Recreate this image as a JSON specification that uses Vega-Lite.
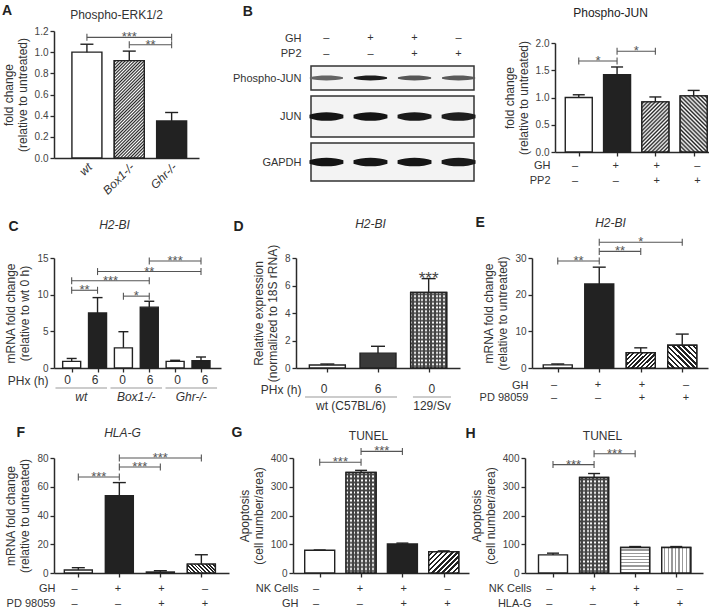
{
  "background": "white",
  "padding": {"left": 2, "top": 3, "right": 0, "bottom": 0},
  "config": {
    "font": "Liberation Sans",
    "view": {"stroke": null},
    "axis": {"grid": false, "domainColor": "#2a2a2a", "domainWidth": 1.5, "tickColor": "#2a2a2a", "tickWidth": 1.3, "tickSize": 4, "labelColor": "#444", "labelFontSize": 10, "labelFont": "Liberation Sans", "titleColor": "#333", "titleFont": "Liberation Sans", "titleFontSize": 12, "titleFontWeight": "normal", "labelPadding": 2, "titlePadding": 5, "titleLineHeight": 14},
    "title": {"font": "Liberation Sans", "color": "#222"},
    "text": {"font": "Liberation Sans"}
  },
  "datasets": {
    "a_bars": [{"i": 1, "g": "wt", "v": 1.0, "hi": 1.075}, {"i": 2, "g": "Box1-/-", "v": 0.92, "hi": 1.01}, {"i": 3, "g": "Ghr-/-", "v": 0.35, "hi": 0.43}],
    "a_br": [{"a": 1, "b": 3, "y": 1.14, "s": "***"}, {"a": 2, "b": 3, "y": 1.07, "s": "**"}],
    "b_lanes": [{"lane": 1, "GH": "–", "PP2": "–"}, {"lane": 2, "GH": "+", "PP2": "–"}, {"lane": 3, "GH": "+", "PP2": "+"}, {"lane": 4, "GH": "–", "PP2": "+"}],
    "b_blot": [
      {"blot": "Phospho-JUN", "lane": 1, "intensity": 0.6}, {"blot": "Phospho-JUN", "lane": 2, "intensity": 0.93}, {"blot": "Phospho-JUN", "lane": 3, "intensity": 0.66}, {"blot": "Phospho-JUN", "lane": 4, "intensity": 0.64},
      {"blot": "JUN", "lane": 1, "intensity": 0.96}, {"blot": "JUN", "lane": 2, "intensity": 0.97}, {"blot": "JUN", "lane": 3, "intensity": 0.94}, {"blot": "JUN", "lane": 4, "intensity": 0.92},
      {"blot": "GAPDH", "lane": 1, "intensity": 0.97}, {"blot": "GAPDH", "lane": 2, "intensity": 0.96}, {"blot": "GAPDH", "lane": 3, "intensity": 0.96}, {"blot": "GAPDH", "lane": 4, "intensity": 0.94}
    ],
    "b_bars": [{"i": 1, "v": 1.0, "hi": 1.05, "GH": "–", "PP2": "–"}, {"i": 2, "v": 1.42, "hi": 1.56, "GH": "+", "PP2": "–"}, {"i": 3, "v": 0.92, "hi": 1.01, "GH": "+", "PP2": "+"}, {"i": 4, "v": 1.03, "hi": 1.13, "GH": "–", "PP2": "+"}],
    "b_br": [{"a": 1, "b": 2, "y": 1.67, "s": "*"}, {"a": 2, "b": 3, "y": 1.85, "s": "*"}],
    "c_bars": [{"i": 1, "v": 0.9, "hi": 1.3, "PHx (h)": "0"}, {"i": 2, "v": 7.5, "hi": 9.6, "PHx (h)": "6"}, {"i": 3, "v": 2.75, "hi": 4.95, "PHx (h)": "0"}, {"i": 4, "v": 8.3, "hi": 9.1, "PHx (h)": "6"}, {"i": 5, "v": 0.9, "hi": 1.05, "PHx (h)": "0"}, {"i": 6, "v": 1.0, "hi": 1.5, "PHx (h)": "6"}],
    "c_br": [{"a": 1, "b": 2, "y": 10.6, "s": "**"}, {"a": 1, "b": 4, "y": 11.9, "s": "***"}, {"a": 3, "b": 4, "y": 9.8, "s": "*"}, {"a": 2, "b": 6, "y": 13.15, "s": "**"}, {"a": 4, "b": 6, "y": 14.6, "s": "***"}],
    "c_grp": [{"g": "wt", "a": 1, "b": 2}, {"g": "Box1-/-", "a": 3, "b": 4}, {"g": "Ghr-/-", "a": 5, "b": 6}],
    "d_bars": [{"i": 1, "v": 0.22, "hi": 0.29, "PHx (h)": "0"}, {"i": 2, "v": 1.08, "hi": 1.58, "PHx (h)": "6"}, {"i": 3, "v": 5.5, "hi": 6.5, "PHx (h)": "0", "sig": "***"}],
    "d_grp": [{"g": "wt (C57BL/6)", "a": 1, "b": 2}, {"g": "129/Sv", "a": 3, "b": 3}],
    "e_bars": [{"i": 1, "v": 0.86, "hi": 1.1, "GH": "–", "PD 98059": "–"}, {"i": 2, "v": 22.9, "hi": 27.5, "GH": "+", "PD 98059": "–"}, {"i": 3, "v": 4.15, "hi": 5.5, "GH": "+", "PD 98059": "+"}, {"i": 4, "v": 6.2, "hi": 9.25, "GH": "–", "PD 98059": "+"}],
    "e_br": [{"a": 1, "b": 2, "y": 29.2, "s": "**"}, {"a": 2, "b": 3, "y": 31.8, "s": "**"}, {"a": 2, "b": 4, "y": 34.3, "s": "*"}],
    "f_bars": [{"i": 1, "v": 2.1, "hi": 3.7, "GH": "–", "PD 98059": "–"}, {"i": 2, "v": 53.7, "hi": 62.9, "GH": "+", "PD 98059": "–"}, {"i": 3, "v": 0.7, "hi": 1.6, "GH": "+", "PD 98059": "+"}, {"i": 4, "v": 6.2, "hi": 12.7, "GH": "–", "PD 98059": "+"}],
    "f_br": [{"a": 1, "b": 2, "y": 66.8, "s": "***"}, {"a": 2, "b": 3, "y": 73.7, "s": "***"}, {"a": 2, "b": 4, "y": 80, "s": "***"}],
    "g_bars": [{"i": 1, "v": 79, "hi": 80, "NK Cells": "–", "GH": "–"}, {"i": 2, "v": 350, "hi": 357, "NK Cells": "+", "GH": "–"}, {"i": 3, "v": 101, "hi": 104, "NK Cells": "+", "GH": "+"}, {"i": 4, "v": 74, "hi": 77, "NK Cells": "–", "GH": "+"}],
    "g_br": [{"a": 1, "b": 2, "y": 385, "s": "***"}, {"a": 2, "b": 3, "y": 423, "s": "***"}],
    "h_bars": [{"i": 1, "v": 63, "hi": 69, "NK Cells": "–", "HLA-G": "–"}, {"i": 2, "v": 332, "hi": 346, "NK Cells": "+", "HLA-G": "–"}, {"i": 3, "v": 88.5, "hi": 92, "NK Cells": "+", "HLA-G": "+"}, {"i": 4, "v": 88.5, "hi": 92, "NK Cells": "–", "HLA-G": "+"}],
    "h_br": [{"a": 1, "b": 2, "y": 377, "s": "***"}, {"a": 2, "b": 3, "y": 415, "s": "***"}]
  },
  "resolve": {"scale": {"fill": "independent", "color": "independent"}},
  "vconcat": [
    {"resolve": {"scale": {"fill": "independent", "color": "independent"}}, "hconcat": [
      {
        "title": {"text": "A", "anchor": "start", "frame": "bounds", "fontSize": 14, "fontWeight": "bold", "offset": 0, "dy": 9.5},
        "width": 145, "height": 127,
        "data": {"name": "a_bars"},
        "resolve": {"axis": {"x": "independent", "y": "independent"}},
        "layer": [
          {"mark": {"type": "bar", "orient": "vertical", "width": 30, "stroke": "#222", "strokeWidth": 1.4, "opacity": 1},
           "encoding": {
             "x": {"field": "i", "type": "quantitative", "scale": {"domain": [0.341, 3.528], "nice": false, "zero": false}, "axis": {"values": [1, 2, 3], "labels": false, "ticks": false, "title": null}},
             "y": {"field": "v", "type": "quantitative", "scale": {"domain": [0, 1.2], "nice": false}, "axis": {"values": [0, 0.2, 0.4, 0.6, 0.8, 1.0, 1.2], "format": ".1f", "title": ["fold change", "(relative to untreated)"]}},
             "fill": {"field": "i", "type": "nominal", "scale": {"domain": [1, 2, 3], "range": ["#ffffff", "#999999", "#222222"]}, "legend": null}
           }},
          {"transform": [{"filter": "datum.i == 2"}],
           "mark": {"type": "bar", "orient": "vertical", "width": 30, "stroke": "#222", "strokeWidth": 1.4, "opacity": 1,
             "fill": {"gradient": "linear", "x1": 0, "y1": 0, "x2": 0.368, "y2": 1.195, "stops": [{"offset": 0, "color": "#fff"}, {"offset": 0.0125, "color": "#222"}, {"offset": 0.025, "color": "#fff"}, {"offset": 0.0375, "color": "#222"}, {"offset": 0.05, "color": "#fff"}, {"offset": 0.0625, "color": "#222"}, {"offset": 0.075, "color": "#fff"}, {"offset": 0.0875, "color": "#222"}, {"offset": 0.1, "color": "#fff"}, {"offset": 0.1125, "color": "#222"}, {"offset": 0.125, "color": "#fff"}, {"offset": 0.1375, "color": "#222"}, {"offset": 0.15, "color": "#fff"}, {"offset": 0.1625, "color": "#222"}, {"offset": 0.175, "color": "#fff"}, {"offset": 0.1875, "color": "#222"}, {"offset": 0.2, "color": "#fff"}, {"offset": 0.2125, "color": "#222"}, {"offset": 0.225, "color": "#fff"}, {"offset": 0.2375, "color": "#222"}, {"offset": 0.25, "color": "#fff"}, {"offset": 0.2625, "color": "#222"}, {"offset": 0.275, "color": "#fff"}, {"offset": 0.2875, "color": "#222"}, {"offset": 0.3, "color": "#fff"}, {"offset": 0.3125, "color": "#222"}, {"offset": 0.325, "color": "#fff"}, {"offset": 0.3375, "color": "#222"}, {"offset": 0.35, "color": "#fff"}, {"offset": 0.3625, "color": "#222"}, {"offset": 0.375, "color": "#fff"}, {"offset": 0.3875, "color": "#222"}, {"offset": 0.4, "color": "#fff"}, {"offset": 0.4125, "color": "#222"}, {"offset": 0.425, "color": "#fff"}, {"offset": 0.4375, "color": "#222"}, {"offset": 0.45, "color": "#fff"}, {"offset": 0.4625, "color": "#222"}, {"offset": 0.475, "color": "#fff"}, {"offset": 0.4875, "color": "#222"}, {"offset": 0.5, "color": "#fff"}, {"offset": 0.5125, "color": "#222"}, {"offset": 0.525, "color": "#fff"}, {"offset": 0.5375, "color": "#222"}, {"offset": 0.55, "color": "#fff"}, {"offset": 0.5625, "color": "#222"}, {"offset": 0.575, "color": "#fff"}, {"offset": 0.5875, "color": "#222"}, {"offset": 0.6, "color": "#fff"}, {"offset": 0.6125, "color": "#222"}, {"offset": 0.625, "color": "#fff"}, {"offset": 0.6375, "color": "#222"}, {"offset": 0.65, "color": "#fff"}, {"offset": 0.6625, "color": "#222"}, {"offset": 0.675, "color": "#fff"}, {"offset": 0.6875, "color": "#222"}, {"offset": 0.7, "color": "#fff"}, {"offset": 0.7125, "color": "#222"}, {"offset": 0.725, "color": "#fff"}, {"offset": 0.7375, "color": "#222"}, {"offset": 0.75, "color": "#fff"}, {"offset": 0.7625, "color": "#222"}, {"offset": 0.775, "color": "#fff"}, {"offset": 0.7875, "color": "#222"}, {"offset": 0.8, "color": "#fff"}, {"offset": 0.8125, "color": "#222"}, {"offset": 0.825, "color": "#fff"}, {"offset": 0.8375, "color": "#222"}, {"offset": 0.85, "color": "#fff"}, {"offset": 0.8625, "color": "#222"}, {"offset": 0.875, "color": "#fff"}, {"offset": 0.8875, "color": "#222"}, {"offset": 0.9, "color": "#fff"}, {"offset": 0.9125, "color": "#222"}, {"offset": 0.925, "color": "#fff"}, {"offset": 0.9375, "color": "#222"}, {"offset": 0.95, "color": "#fff"}, {"offset": 0.9625, "color": "#222"}, {"offset": 0.975, "color": "#fff"}, {"offset": 0.9875, "color": "#222"}, {"offset": 1, "color": "#fff"}]}},
           "encoding": {"x": {"field": "i", "type": "quantitative", "axis": null}, "y": {"field": "v", "type": "quantitative", "axis": null}}},
          {"mark": {"type": "rule", "color": "#222", "strokeWidth": 1.4},
           "encoding": {
             "x": {"field": "i", "type": "quantitative", "axis": {"orient": "top", "labels": false, "ticks": false, "domain": false, "title": "Phospho-ERK1/2", "titlePadding": 10, "titleX": 62}},
             "y": {"field": "v", "type": "quantitative", "axis": null},
             "y2": {"field": "hi"}
           }},
          {"mark": {"type": "tick", "orient": "horizontal", "size": 13, "thickness": 1.4, "color": "#222", "opacity": 1},
           "encoding": {"x": {"field": "i", "type": "quantitative", "axis": null}, "y": {"field": "hi", "type": "quantitative", "axis": null}}},
          {"mark": {"type": "text", "angle": 315, "align": "right", "baseline": "middle", "fontSize": 12, "fontStyle": "italic", "color": "#333", "xOffset": 3, "yOffset": 7},
           "encoding": {"x": {"field": "i", "type": "quantitative", "axis": null}, "y": {"value": "height"}, "text": {"field": "g"}}},
          {"data": {"name": "a_br"}, "mark": {"type": "rule", "color": "#555", "strokeWidth": 1.1},
           "encoding": {"x": {"field": "a", "type": "quantitative", "axis": null}, "x2": {"field": "b"}, "y": {"field": "y", "type": "quantitative", "axis": null}}},
          {"data": {"name": "a_br"}, "mark": {"type": "tick", "orient": "vertical", "size": 7, "thickness": 1.1, "color": "#555", "opacity": 1},
           "encoding": {"x": {"field": "a", "type": "quantitative", "axis": null}, "y": {"field": "y", "type": "quantitative", "axis": null}}},
          {"data": {"name": "a_br"}, "mark": {"type": "tick", "orient": "vertical", "size": 7, "thickness": 1.1, "color": "#555", "opacity": 1},
           "encoding": {"x": {"field": "b", "type": "quantitative", "axis": null}, "y": {"field": "y", "type": "quantitative", "axis": null}}},
          {"data": {"name": "a_br"}, "transform": [{"calculate": "(datum.a + datum.b) / 2", "as": "mid"}], "mark": {"type": "text", "fontSize": 13, "color": "#555", "baseline": "alphabetic", "dy": 4},
           "encoding": {"x": {"field": "mid", "type": "quantitative", "axis": null}, "y": {"field": "y", "type": "quantitative", "axis": null}, "text": {"field": "s"}}}
        ]
      },
      {"resolve": {"scale": {"fill": "independent", "color": "independent"}}, "hconcat": [
        {
          "title": {"text": "B", "anchor": "start", "frame": "bounds", "fontSize": 14, "fontWeight": "bold", "offset": 12.5, "dx": 11},
          "vconcat": [
            {"width": 163, "height": 30, "data": {"name": "b_lanes"},
             "transform": [{"fold": ["GH", "PP2"], "as": ["row", "s"]}],
             "mark": {"type": "text", "fontSize": 11, "color": "#333"},
             "encoding": {
               "x": {"field": "lane", "type": "quantitative", "scale": {"domain": [0.65, 4.35], "nice": false, "zero": false}, "axis": null},
               "y": {"field": "row", "type": "nominal", "sort": ["GH", "PP2"], "scale": {"padding": 0.44}, "axis": {"domain": false, "ticks": false, "labelFontSize": 11, "labelPadding": 10, "labelColor": "#333", "title": null}},
               "text": {"field": "s"}
             }},
            {"width": 163, "height": 24, "data": {"name": "b_blot"},
             "transform": [{"filter": "datum.blot == 'Phospho-JUN'"}],
             "view": {"stroke": "#333", "strokeWidth": 1.5, "fill": "#f3f3f3"},
             "mark": {"type": "point", "filled": true, "opacity": 1, "size": 1100, "shape": "M-1,-0.05C-0.5,-0.18,0.5,-0.18,1,-0.05L1,0.05C0.5,0.18,-0.5,0.18,-1,0.05Z"},
             "encoding": {
               "x": {"field": "lane", "type": "quantitative", "scale": {"domain": [0.65, 4.35], "nice": false, "zero": false}, "axis": null},
               "y": {"field": "blot", "type": "nominal", "axis": {"domain": false, "ticks": false, "labelFontSize": 11, "labelPadding": 10, "labelColor": "#333", "title": null}},
               "color": {"field": "intensity", "type": "quantitative", "scale": {"domain": [0, 1], "range": ["#ffffff", "#0d0d0d"]}, "legend": null}
             }},
            {"width": 163, "height": 41, "data": {"name": "b_blot"},
             "transform": [{"filter": "datum.blot == 'JUN'"}],
             "view": {"stroke": "#333", "strokeWidth": 1.5, "fill": "#f3f3f3"},
             "mark": {"type": "point", "filled": true, "opacity": 1, "size": 1150, "shape": "M-1,-0.1C-0.5,-0.3,0.5,-0.3,1,-0.1L1,0.1C0.5,0.3,-0.5,0.3,-1,0.1Z"},
             "encoding": {
               "x": {"field": "lane", "type": "quantitative", "scale": {"domain": [0.65, 4.35], "nice": false, "zero": false}, "axis": null},
               "y": {"field": "blot", "type": "nominal", "axis": {"domain": false, "ticks": false, "labelFontSize": 11, "labelPadding": 10, "labelColor": "#333", "title": null}},
               "color": {"field": "intensity", "type": "quantitative", "scale": {"domain": [0, 1], "range": ["#ffffff", "#0d0d0d"]}, "legend": null}
             }},
            {"width": 163, "height": 38, "data": {"name": "b_blot"},
             "transform": [{"filter": "datum.blot == 'GAPDH'"}],
             "view": {"stroke": "#333", "strokeWidth": 1.5, "fill": "#f3f3f3"},
             "mark": {"type": "point", "filled": true, "opacity": 1, "size": 1150, "shape": "M-1,-0.1C-0.5,-0.3,0.5,-0.3,1,-0.1L1,0.1C0.5,0.3,-0.5,0.3,-1,0.1Z"},
             "encoding": {
               "x": {"field": "lane", "type": "quantitative", "scale": {"domain": [0.65, 4.35], "nice": false, "zero": false}, "axis": null},
               "y": {"field": "blot", "type": "nominal", "axis": {"domain": false, "ticks": false, "labelFontSize": 11, "labelPadding": 10, "labelColor": "#333", "title": null}},
               "color": {"field": "intensity", "type": "quantitative", "scale": {"domain": [0, 1], "range": ["#ffffff", "#0d0d0d"]}, "legend": null}
             }}
          ],
          "spacing": 4
        },
        {
          "title": {"text": "Phospho-JUN", "anchor": "middle", "frame": "bounds", "fontSize": 12, "fontWeight": "normal", "offset": 11},
          "vconcat": [
            {"width": 163, "height": 6, "data": {"values": [{"k": 0}]}, "mark": {"type": "point", "opacity": 0}, "encoding": {}},
            {"width": 163, "height": 109, "data": {"name": "b_bars"},
             "resolve": {"axis": {"x": "independent", "y": "independent"}},
             "layer": [
               {"mark": {"type": "bar", "orient": "vertical", "width": 27, "stroke": "#222", "strokeWidth": 1.4, "opacity": 1},
                "encoding": {
                  "x": {"field": "i", "type": "quantitative", "scale": {"domain": [0.51, 4.505], "nice": false, "zero": false}, "axis": {"values": [1, 2, 3, 4], "labels": false, "title": null}},
                  "y": {"field": "v", "type": "quantitative", "scale": {"domain": [0, 2], "nice": false}, "axis": {"values": [0, 0.5, 1, 1.5, 2], "format": ".1f", "title": ["fold change", "(relative to untreated)"]}},
                  "fill": {"field": "i", "type": "nominal", "scale": {"domain": [1, 2, 3, 4], "range": ["#ffffff", "#222222", "#999999", "#999999"]}, "legend": null}
                }},
               {"transform": [{"filter": "datum.i == 3"}],
                "mark": {"type": "bar", "orient": "vertical", "width": 27, "stroke": "#222", "strokeWidth": 1.4, "opacity": 1,
                  "fill": {"gradient": "linear", "x1": 0, "y1": 0, "x2": 0.643, "y2": 1.193, "stops": [{"offset": 0, "color": "#fff"}, {"offset": 0.025, "color": "#222"}, {"offset": 0.05, "color": "#fff"}, {"offset": 0.075, "color": "#222"}, {"offset": 0.1, "color": "#fff"}, {"offset": 0.125, "color": "#222"}, {"offset": 0.15, "color": "#fff"}, {"offset": 0.175, "color": "#222"}, {"offset": 0.2, "color": "#fff"}, {"offset": 0.225, "color": "#222"}, {"offset": 0.25, "color": "#fff"}, {"offset": 0.275, "color": "#222"}, {"offset": 0.3, "color": "#fff"}, {"offset": 0.325, "color": "#222"}, {"offset": 0.35, "color": "#fff"}, {"offset": 0.375, "color": "#222"}, {"offset": 0.4, "color": "#fff"}, {"offset": 0.425, "color": "#222"}, {"offset": 0.45, "color": "#fff"}, {"offset": 0.475, "color": "#222"}, {"offset": 0.5, "color": "#fff"}, {"offset": 0.525, "color": "#222"}, {"offset": 0.55, "color": "#fff"}, {"offset": 0.575, "color": "#222"}, {"offset": 0.6, "color": "#fff"}, {"offset": 0.625, "color": "#222"}, {"offset": 0.65, "color": "#fff"}, {"offset": 0.675, "color": "#222"}, {"offset": 0.7, "color": "#fff"}, {"offset": 0.725, "color": "#222"}, {"offset": 0.75, "color": "#fff"}, {"offset": 0.775, "color": "#222"}, {"offset": 0.8, "color": "#fff"}, {"offset": 0.825, "color": "#222"}, {"offset": 0.85, "color": "#fff"}, {"offset": 0.875, "color": "#222"}, {"offset": 0.9, "color": "#fff"}, {"offset": 0.925, "color": "#222"}, {"offset": 0.95, "color": "#fff"}, {"offset": 0.975, "color": "#222"}, {"offset": 1, "color": "#fff"}]}},
                "encoding": {"x": {"field": "i", "type": "quantitative", "axis": null}, "y": {"field": "v", "type": "quantitative", "axis": null}}},
               {"transform": [{"filter": "datum.i == 4"}],
                "mark": {"type": "bar", "orient": "vertical", "width": 27, "stroke": "#222", "strokeWidth": 1.4, "opacity": 1,
                  "fill": {"gradient": "linear", "x1": 1, "y1": 0, "x2": 0.421, "y2": 1.203, "stops": [{"offset": 0, "color": "#fff"}, {"offset": 0.025, "color": "#222"}, {"offset": 0.05, "color": "#fff"}, {"offset": 0.075, "color": "#222"}, {"offset": 0.1, "color": "#fff"}, {"offset": 0.125, "color": "#222"}, {"offset": 0.15, "color": "#fff"}, {"offset": 0.175, "color": "#222"}, {"offset": 0.2, "color": "#fff"}, {"offset": 0.225, "color": "#222"}, {"offset": 0.25, "color": "#fff"}, {"offset": 0.275, "color": "#222"}, {"offset": 0.3, "color": "#fff"}, {"offset": 0.325, "color": "#222"}, {"offset": 0.35, "color": "#fff"}, {"offset": 0.375, "color": "#222"}, {"offset": 0.4, "color": "#fff"}, {"offset": 0.425, "color": "#222"}, {"offset": 0.45, "color": "#fff"}, {"offset": 0.475, "color": "#222"}, {"offset": 0.5, "color": "#fff"}, {"offset": 0.525, "color": "#222"}, {"offset": 0.55, "color": "#fff"}, {"offset": 0.575, "color": "#222"}, {"offset": 0.6, "color": "#fff"}, {"offset": 0.625, "color": "#222"}, {"offset": 0.65, "color": "#fff"}, {"offset": 0.675, "color": "#222"}, {"offset": 0.7, "color": "#fff"}, {"offset": 0.725, "color": "#222"}, {"offset": 0.75, "color": "#fff"}, {"offset": 0.775, "color": "#222"}, {"offset": 0.8, "color": "#fff"}, {"offset": 0.825, "color": "#222"}, {"offset": 0.85, "color": "#fff"}, {"offset": 0.875, "color": "#222"}, {"offset": 0.9, "color": "#fff"}, {"offset": 0.925, "color": "#222"}, {"offset": 0.95, "color": "#fff"}, {"offset": 0.975, "color": "#222"}, {"offset": 1, "color": "#fff"}]}},
                "encoding": {"x": {"field": "i", "type": "quantitative", "axis": null}, "y": {"field": "v", "type": "quantitative", "axis": null}}},
               {"mark": {"type": "rule", "color": "#222", "strokeWidth": 1.4},
                "encoding": {"x": {"field": "i", "type": "quantitative", "axis": null}, "y": {"field": "v", "type": "quantitative", "axis": null}, "y2": {"field": "hi"}}},
               {"mark": {"type": "tick", "orient": "horizontal", "size": 12, "thickness": 1.4, "color": "#222", "opacity": 1},
                "encoding": {"x": {"field": "i", "type": "quantitative", "axis": null}, "y": {"field": "hi", "type": "quantitative", "axis": null}}},
               {"data": {"name": "b_br"}, "mark": {"type": "rule", "color": "#555", "strokeWidth": 1.1},
                "encoding": {"x": {"field": "a", "type": "quantitative", "axis": null}, "x2": {"field": "b"}, "y": {"field": "y", "type": "quantitative", "axis": null}}},
               {"data": {"name": "b_br"}, "mark": {"type": "tick", "orient": "vertical", "size": 7, "thickness": 1.1, "color": "#555", "opacity": 1},
                "encoding": {"x": {"field": "a", "type": "quantitative", "axis": null}, "y": {"field": "y", "type": "quantitative", "axis": null}}},
               {"data": {"name": "b_br"}, "mark": {"type": "tick", "orient": "vertical", "size": 7, "thickness": 1.1, "color": "#555", "opacity": 1},
                "encoding": {"x": {"field": "b", "type": "quantitative", "axis": null}, "y": {"field": "y", "type": "quantitative", "axis": null}}},
               {"data": {"name": "b_br"}, "transform": [{"calculate": "(datum.a + datum.b) / 2", "as": "mid"}], "mark": {"type": "text", "fontSize": 13, "color": "#555", "baseline": "alphabetic", "dy": 4},
                "encoding": {"x": {"field": "mid", "type": "quantitative", "axis": null}, "y": {"field": "y", "type": "quantitative", "axis": null}, "text": {"field": "s"}}}
             ]},
            {"width": 163, "height": 30, "data": {"name": "b_bars"},
             "transform": [{"fold": ["GH", "PP2"], "as": ["row", "s"]}],
             "mark": {"type": "text", "fontSize": 11, "color": "#333"},
             "encoding": {
               "x": {"field": "i", "type": "quantitative", "scale": {"domain": [0.51, 4.505], "nice": false, "zero": false}, "axis": null},
               "y": {"field": "row", "type": "nominal", "sort": ["GH", "PP2"], "scale": {"padding": 0.5}, "axis": {"domain": false, "ticks": false, "labelFontSize": 11, "labelPadding": 5, "labelColor": "#333", "title": null}},
               "text": {"field": "s"}
             }}
          ],
          "spacing": 1
        }
      ], "spacing": 26}
    ], "spacing": 32},
    {"resolve": {"scale": {"fill": "independent", "color": "independent"}}, "vconcat": [
      {"resolve": {"scale": {"fill": "independent", "color": "independent"}}, "hconcat": [
        {
          "vconcat": [
            {"width": 167, "height": 110, "data": {"name": "c_bars"},
             "resolve": {"axis": {"x": "independent", "y": "independent"}},
             "layer": [
               {"mark": {"type": "bar", "orient": "vertical", "width": 18, "stroke": "#222", "strokeWidth": 1.4, "opacity": 1},
                "encoding": {
                  "x": {"field": "i", "type": "quantitative", "scale": {"domain": [0.51, 6.58], "nice": false, "zero": false}, "axis": {"values": [1, 2, 3, 4, 5, 6], "labels": false, "title": null}},
                  "y": {"field": "v", "type": "quantitative", "scale": {"domain": [0, 15], "nice": false}, "axis": {"values": [0, 5, 10, 15], "title": ["mRNA fold change", "(relative to wt 0 h)"]}},
                  "fill": {"field": "i", "type": "nominal", "scale": {"domain": [1, 2, 3, 4, 5, 6], "range": ["#ffffff", "#222222", "#ffffff", "#222222", "#ffffff", "#222222"]}, "legend": null}
                }},
               {"mark": {"type": "rule", "color": "#222", "strokeWidth": 1.4},
                "encoding": {
                  "x": {"field": "i", "type": "quantitative", "axis": {"orient": "top", "labels": false, "ticks": false, "domain": false, "title": "H2-BI", "titleFontStyle": "italic", "titlePadding": 27, "titleX": 60}},
                  "y": {"field": "v", "type": "quantitative", "axis": null}, "y2": {"field": "hi"}}},
               {"mark": {"type": "tick", "orient": "horizontal", "size": 10, "thickness": 1.4, "color": "#222", "opacity": 1},
                "encoding": {
                  "x": {"field": "i", "type": "quantitative", "axis": {"orient": "top", "labels": false, "ticks": false, "domain": false, "title": "C", "titleFontSize": 14, "titleFontWeight": "bold", "titleColor": "#222", "titleX": -46, "titleY": -31.5, "titleAlign": "left", "titleBaseline": "middle"}},
                  "y": {"field": "hi", "type": "quantitative", "axis": null}}},
               {"data": {"name": "c_br"}, "mark": {"type": "rule", "color": "#555", "strokeWidth": 1.1},
                "encoding": {"x": {"field": "a", "type": "quantitative", "axis": null}, "x2": {"field": "b"}, "y": {"field": "y", "type": "quantitative", "axis": null}}},
               {"data": {"name": "c_br"}, "mark": {"type": "tick", "orient": "vertical", "size": 7, "thickness": 1.1, "color": "#555", "opacity": 1},
                "encoding": {"x": {"field": "a", "type": "quantitative", "axis": null}, "y": {"field": "y", "type": "quantitative", "axis": null}}},
               {"data": {"name": "c_br"}, "mark": {"type": "tick", "orient": "vertical", "size": 7, "thickness": 1.1, "color": "#555", "opacity": 1},
                "encoding": {"x": {"field": "b", "type": "quantitative", "axis": null}, "y": {"field": "y", "type": "quantitative", "axis": null}}},
               {"data": {"name": "c_br"}, "transform": [{"calculate": "(datum.a + datum.b) / 2", "as": "mid"}], "mark": {"type": "text", "fontSize": 13, "color": "#555", "baseline": "alphabetic", "dy": 4},
                "encoding": {"x": {"field": "mid", "type": "quantitative", "axis": null}, "y": {"field": "y", "type": "quantitative", "axis": null}, "text": {"field": "s"}}}
             ]},
            {"width": 167, "height": 14,
             "layer": [
               {"data": {"name": "c_bars"}, "transform": [{"fold": ["PHx (h)"], "as": ["row", "s"]}],
                "mark": {"type": "text", "fontSize": 12, "color": "#333"},
                "encoding": {
                  "x": {"field": "i", "type": "quantitative", "scale": {"domain": [0.51, 6.58], "nice": false, "zero": false}, "axis": null},
                  "y": {"field": "row", "type": "nominal", "axis": {"domain": false, "ticks": false, "labelFontSize": 12, "labelPadding": 6, "labelColor": "#333", "title": null}},
                  "text": {"field": "s"}
                }},
               {"data": {"name": "c_grp"}, "mark": {"type": "rule", "color": "#999", "strokeWidth": 1, "yOffset": 1, "xOffset": -12, "x2Offset": 12},
                "encoding": {"x": {"field": "a", "type": "quantitative", "axis": null}, "x2": {"field": "b"}, "y": {"value": "height"}}},
               {"data": {"name": "c_grp"}, "transform": [{"calculate": "(datum.a + datum.b) / 2", "as": "mid"}],
                "mark": {"type": "text", "fontSize": 12, "fontStyle": "italic", "color": "#333", "yOffset": 10, "baseline": "middle"},
                "encoding": {"x": {"field": "mid", "type": "quantitative", "axis": null}, "y": {"value": "height"}, "text": {"field": "g"}}}
             ]}
          ],
          "spacing": -1
        },
        {"resolve": {"scale": {"fill": "independent", "color": "independent"}}, "hconcat": [
          {
            "vconcat": [
              {"width": 164, "height": 110, "data": {"name": "d_bars"},
               "resolve": {"axis": {"x": "independent", "y": "independent"}},
               "layer": [
                 {"mark": {"type": "bar", "orient": "vertical", "width": 36, "stroke": "#222", "strokeWidth": 1.4, "opacity": 1},
                  "encoding": {
                    "x": {"field": "i", "type": "quantitative", "scale": {"domain": [0.48, 3.52], "nice": false, "zero": false}, "axis": {"values": [1, 2, 3], "labels": false, "title": null}},
                    "y": {"field": "v", "type": "quantitative", "scale": {"domain": [0, 8], "nice": false}, "axis": {"values": [0, 2, 4, 6, 8], "title": ["Relative expression", "(normalized to 18S rRNA)"]}},
                    "fill": {"field": "i", "type": "nominal", "scale": {"domain": [1, 2, 3], "range": ["#ffffff", "#3a3a3a", "#ffffff"]}, "legend": null}
                  }},
                 {"transform": [{"filter": "datum.i == 3"}],
                  "mark": {"type": "bar", "orient": "vertical", "width": 36, "strokeWidth": 0, "opacity": 1,
                    "fill": {"gradient": "linear", "x1": 0, "y1": 0, "x2": 1, "y2": 0, "stops": [{"offset": 0, "color": "#fff"}, {"offset": 0.05, "color": "#fff"}, {"offset": 0.05, "color": "#444"}, {"offset": 0.1, "color": "#444"}, {"offset": 0.1, "color": "#fff"}, {"offset": 0.15, "color": "#fff"}, {"offset": 0.15, "color": "#444"}, {"offset": 0.2, "color": "#444"}, {"offset": 0.2, "color": "#fff"}, {"offset": 0.25, "color": "#fff"}, {"offset": 0.25, "color": "#444"}, {"offset": 0.3, "color": "#444"}, {"offset": 0.3, "color": "#fff"}, {"offset": 0.35, "color": "#fff"}, {"offset": 0.35, "color": "#444"}, {"offset": 0.4, "color": "#444"}, {"offset": 0.4, "color": "#fff"}, {"offset": 0.45, "color": "#fff"}, {"offset": 0.45, "color": "#444"}, {"offset": 0.5, "color": "#444"}, {"offset": 0.5, "color": "#fff"}, {"offset": 0.55, "color": "#fff"}, {"offset": 0.55, "color": "#444"}, {"offset": 0.6, "color": "#444"}, {"offset": 0.6, "color": "#fff"}, {"offset": 0.65, "color": "#fff"}, {"offset": 0.65, "color": "#444"}, {"offset": 0.7, "color": "#444"}, {"offset": 0.7, "color": "#fff"}, {"offset": 0.75, "color": "#fff"}, {"offset": 0.75, "color": "#444"}, {"offset": 0.8, "color": "#444"}, {"offset": 0.8, "color": "#fff"}, {"offset": 0.85, "color": "#fff"}, {"offset": 0.85, "color": "#444"}, {"offset": 0.9, "color": "#444"}, {"offset": 0.9, "color": "#fff"}, {"offset": 0.95, "color": "#fff"}, {"offset": 0.95, "color": "#444"}, {"offset": 1, "color": "#444"}]}},
                  "encoding": {"x": {"field": "i", "type": "quantitative", "axis": null}, "y": {"field": "v", "type": "quantitative", "axis": null}}},
                 {"transform": [{"filter": "datum.i == 3"}],
                  "mark": {"type": "bar", "orient": "vertical", "width": 36, "strokeWidth": 0, "opacity": 1,
                    "fill": {"gradient": "linear", "x1": 0, "y1": 0, "x2": 0, "y2": 1, "stops": [{"offset": 0, "color": "rgba(68,68,68,0)"}, {"offset": 0.025, "color": "#444"}, {"offset": 0.05, "color": "rgba(68,68,68,0)"}, {"offset": 0.075, "color": "#444"}, {"offset": 0.1, "color": "rgba(68,68,68,0)"}, {"offset": 0.125, "color": "#444"}, {"offset": 0.15, "color": "rgba(68,68,68,0)"}, {"offset": 0.175, "color": "#444"}, {"offset": 0.2, "color": "rgba(68,68,68,0)"}, {"offset": 0.225, "color": "#444"}, {"offset": 0.25, "color": "rgba(68,68,68,0)"}, {"offset": 0.275, "color": "#444"}, {"offset": 0.3, "color": "rgba(68,68,68,0)"}, {"offset": 0.325, "color": "#444"}, {"offset": 0.35, "color": "rgba(68,68,68,0)"}, {"offset": 0.375, "color": "#444"}, {"offset": 0.4, "color": "rgba(68,68,68,0)"}, {"offset": 0.425, "color": "#444"}, {"offset": 0.45, "color": "rgba(68,68,68,0)"}, {"offset": 0.475, "color": "#444"}, {"offset": 0.5, "color": "rgba(68,68,68,0)"}, {"offset": 0.525, "color": "#444"}, {"offset": 0.55, "color": "rgba(68,68,68,0)"}, {"offset": 0.575, "color": "#444"}, {"offset": 0.6, "color": "rgba(68,68,68,0)"}, {"offset": 0.625, "color": "#444"}, {"offset": 0.65, "color": "rgba(68,68,68,0)"}, {"offset": 0.675, "color": "#444"}, {"offset": 0.7, "color": "rgba(68,68,68,0)"}, {"offset": 0.725, "color": "#444"}, {"offset": 0.75, "color": "rgba(68,68,68,0)"}, {"offset": 0.775, "color": "#444"}, {"offset": 0.8, "color": "rgba(68,68,68,0)"}, {"offset": 0.825, "color": "#444"}, {"offset": 0.85, "color": "rgba(68,68,68,0)"}, {"offset": 0.875, "color": "#444"}, {"offset": 0.9, "color": "rgba(68,68,68,0)"}, {"offset": 0.925, "color": "#444"}, {"offset": 0.95, "color": "rgba(68,68,68,0)"}, {"offset": 0.975, "color": "#444"}, {"offset": 1, "color": "rgba(68,68,68,0)"}]}},
                  "encoding": {"x": {"field": "i", "type": "quantitative", "axis": null}, "y": {"field": "v", "type": "quantitative", "axis": null}}},
                 {"transform": [{"filter": "datum.i == 3"}],
                  "mark": {"type": "bar", "orient": "vertical", "width": 36, "fill": "transparent", "stroke": "#222", "strokeWidth": 1.4, "opacity": 1},
                  "encoding": {"x": {"field": "i", "type": "quantitative", "axis": null}, "y": {"field": "v", "type": "quantitative", "axis": null}}},
                 {"mark": {"type": "rule", "color": "#222", "strokeWidth": 1.4},
                  "encoding": {
                    "x": {"field": "i", "type": "quantitative", "axis": {"orient": "top", "labels": false, "ticks": false, "domain": false, "title": "H2-BI", "titleFontStyle": "italic", "titlePadding": 28, "titleX": 74}},
                    "y": {"field": "v", "type": "quantitative", "axis": null}, "y2": {"field": "hi"}}},
                 {"mark": {"type": "tick", "orient": "horizontal", "size": 14, "thickness": 1.4, "color": "#222", "opacity": 1},
                  "encoding": {
                    "x": {"field": "i", "type": "quantitative", "axis": {"orient": "top", "labels": false, "ticks": false, "domain": false, "title": "D", "titleFontSize": 14, "titleFontWeight": "bold", "titleColor": "#222", "titleX": -63, "titleY": -31.5, "titleAlign": "left", "titleBaseline": "middle"}},
                    "y": {"field": "hi", "type": "quantitative", "axis": null}}},
                 {"transform": [{"filter": "datum.sig"}], "mark": {"type": "text", "fontSize": 17, "color": "#444", "baseline": "alphabetic", "dy": 5},
                  "encoding": {"x": {"field": "i", "type": "quantitative", "axis": null}, "y": {"field": "hi", "type": "quantitative", "axis": null}, "text": {"field": "sig"}}}
               ]},
              {"width": 164, "height": 14,
               "layer": [
                 {"data": {"name": "d_bars"}, "transform": [{"fold": ["PHx (h)"], "as": ["row", "s"]}],
                  "mark": {"type": "text", "fontSize": 12, "color": "#333"},
                  "encoding": {
                    "x": {"field": "i", "type": "quantitative", "scale": {"domain": [0.48, 3.52], "nice": false, "zero": false}, "axis": null},
                    "y": {"field": "row", "type": "nominal", "axis": {"domain": false, "ticks": false, "labelFontSize": 12, "labelPadding": -5, "labelColor": "#333", "title": null}},
                    "text": {"field": "s"}
                  }},
                 {"data": {"name": "d_grp"}, "mark": {"type": "rule", "color": "#999", "strokeWidth": 1, "yOffset": 1, "xOffset": -19, "x2Offset": 19},
                  "encoding": {"x": {"field": "a", "type": "quantitative", "axis": null}, "x2": {"field": "b"}, "y": {"value": "height"}}},
                 {"data": {"name": "d_grp"}, "transform": [{"calculate": "(datum.a + datum.b) / 2", "as": "mid"}],
                  "mark": {"type": "text", "fontSize": 12, "color": "#333", "yOffset": 10, "baseline": "middle"},
                  "encoding": {"x": {"field": "mid", "type": "quantitative", "axis": null}, "y": {"value": "height"}, "text": {"field": "g"}}}
               ]}
            ],
            "spacing": -9
          },
          {
            "vconcat": [
              {"width": 176, "height": 110, "data": {"name": "e_bars"},
               "resolve": {"axis": {"x": "independent", "y": "independent"}},
               "layer": [
                 {"mark": {"type": "bar", "orient": "vertical", "width": 29, "stroke": "#222", "strokeWidth": 1.4, "opacity": 1},
                  "encoding": {
                    "x": {"field": "i", "type": "quantitative", "scale": {"domain": [0.5, 4.5], "nice": false, "zero": false}, "axis": {"values": [1, 2, 3, 4], "labels": false, "title": null}},
                    "y": {"field": "v", "type": "quantitative", "scale": {"domain": [0, 30], "nice": false}, "axis": {"values": [0, 10, 20, 30], "title": ["mRNA fold change", "(relative to untreated)"]}},
                    "fill": {"field": "i", "type": "nominal", "scale": {"domain": [1, 2, 3, 4], "range": ["#ffffff", "#222222", "#999999", "#999999"]}, "legend": null}
                  }},
                 {"transform": [{"filter": "datum.i == 3"}],
                  "mark": {"type": "bar", "orient": "vertical", "width": 29, "stroke": "#222", "strokeWidth": 1.4, "opacity": 1,
                    "fill": {"gradient": "linear", "x1": 0, "y1": 0, "x2": 1.194, "y2": 0.638, "stops": [{"offset": 0, "color": "#fff"}, {"offset": 0.05, "color": "#fff"}, {"offset": 0.05, "color": "#222"}, {"offset": 0.1, "color": "#222"}, {"offset": 0.1, "color": "#fff"}, {"offset": 0.15, "color": "#fff"}, {"offset": 0.15, "color": "#222"}, {"offset": 0.2, "color": "#222"}, {"offset": 0.2, "color": "#fff"}, {"offset": 0.25, "color": "#fff"}, {"offset": 0.25, "color": "#222"}, {"offset": 0.3, "color": "#222"}, {"offset": 0.3, "color": "#fff"}, {"offset": 0.35, "color": "#fff"}, {"offset": 0.35, "color": "#222"}, {"offset": 0.4, "color": "#222"}, {"offset": 0.4, "color": "#fff"}, {"offset": 0.45, "color": "#fff"}, {"offset": 0.45, "color": "#222"}, {"offset": 0.5, "color": "#222"}, {"offset": 0.5, "color": "#fff"}, {"offset": 0.55, "color": "#fff"}, {"offset": 0.55, "color": "#222"}, {"offset": 0.6, "color": "#222"}, {"offset": 0.6, "color": "#fff"}, {"offset": 0.65, "color": "#fff"}, {"offset": 0.65, "color": "#222"}, {"offset": 0.7, "color": "#222"}, {"offset": 0.7, "color": "#fff"}, {"offset": 0.75, "color": "#fff"}, {"offset": 0.75, "color": "#222"}, {"offset": 0.8, "color": "#222"}, {"offset": 0.8, "color": "#fff"}, {"offset": 0.85, "color": "#fff"}, {"offset": 0.85, "color": "#222"}, {"offset": 0.9, "color": "#222"}, {"offset": 0.9, "color": "#fff"}, {"offset": 0.95, "color": "#fff"}, {"offset": 0.95, "color": "#222"}, {"offset": 1, "color": "#222"}]}},
                  "encoding": {"x": {"field": "i", "type": "quantitative", "axis": null}, "y": {"field": "v", "type": "quantitative", "axis": null}}},
                 {"transform": [{"filter": "datum.i == 4"}],
                  "mark": {"type": "bar", "orient": "vertical", "width": 29, "stroke": "#222", "strokeWidth": 1.4, "opacity": 1,
                    "fill": {"gradient": "linear", "x1": 1, "y1": 0, "x2": -0.099, "y2": 0.875, "stops": [{"offset": 0, "color": "#fff"}, {"offset": 0.05, "color": "#fff"}, {"offset": 0.05, "color": "#222"}, {"offset": 0.1, "color": "#222"}, {"offset": 0.1, "color": "#fff"}, {"offset": 0.15, "color": "#fff"}, {"offset": 0.15, "color": "#222"}, {"offset": 0.2, "color": "#222"}, {"offset": 0.2, "color": "#fff"}, {"offset": 0.25, "color": "#fff"}, {"offset": 0.25, "color": "#222"}, {"offset": 0.3, "color": "#222"}, {"offset": 0.3, "color": "#fff"}, {"offset": 0.35, "color": "#fff"}, {"offset": 0.35, "color": "#222"}, {"offset": 0.4, "color": "#222"}, {"offset": 0.4, "color": "#fff"}, {"offset": 0.45, "color": "#fff"}, {"offset": 0.45, "color": "#222"}, {"offset": 0.5, "color": "#222"}, {"offset": 0.5, "color": "#fff"}, {"offset": 0.55, "color": "#fff"}, {"offset": 0.55, "color": "#222"}, {"offset": 0.6, "color": "#222"}, {"offset": 0.6, "color": "#fff"}, {"offset": 0.65, "color": "#fff"}, {"offset": 0.65, "color": "#222"}, {"offset": 0.7, "color": "#222"}, {"offset": 0.7, "color": "#fff"}, {"offset": 0.75, "color": "#fff"}, {"offset": 0.75, "color": "#222"}, {"offset": 0.8, "color": "#222"}, {"offset": 0.8, "color": "#fff"}, {"offset": 0.85, "color": "#fff"}, {"offset": 0.85, "color": "#222"}, {"offset": 0.9, "color": "#222"}, {"offset": 0.9, "color": "#fff"}, {"offset": 0.95, "color": "#fff"}, {"offset": 0.95, "color": "#222"}, {"offset": 1, "color": "#222"}]}},
                  "encoding": {"x": {"field": "i", "type": "quantitative", "axis": null}, "y": {"field": "v", "type": "quantitative", "axis": null}}},
                 {"mark": {"type": "rule", "color": "#222", "strokeWidth": 1.4},
                  "encoding": {
                    "x": {"field": "i", "type": "quantitative", "axis": {"orient": "top", "labels": false, "ticks": false, "domain": false, "title": "H2-BI", "titleFontStyle": "italic", "titlePadding": 29, "titleX": 78}},
                    "y": {"field": "v", "type": "quantitative", "axis": null}, "y2": {"field": "hi"}}},
                 {"mark": {"type": "tick", "orient": "horizontal", "size": 13, "thickness": 1.4, "color": "#222", "opacity": 1},
                  "encoding": {
                    "x": {"field": "i", "type": "quantitative", "axis": {"orient": "top", "labels": false, "ticks": false, "domain": false, "title": "E", "titleFontSize": 14, "titleFontWeight": "bold", "titleColor": "#222", "titleX": -57, "titleY": -36, "titleAlign": "left", "titleBaseline": "middle"}},
                    "y": {"field": "hi", "type": "quantitative", "axis": null}}},
                 {"data": {"name": "e_br"}, "mark": {"type": "rule", "color": "#555", "strokeWidth": 1.1},
                  "encoding": {"x": {"field": "a", "type": "quantitative", "axis": null}, "x2": {"field": "b"}, "y": {"field": "y", "type": "quantitative", "axis": null}}},
                 {"data": {"name": "e_br"}, "mark": {"type": "tick", "orient": "vertical", "size": 7, "thickness": 1.1, "color": "#555", "opacity": 1},
                  "encoding": {"x": {"field": "a", "type": "quantitative", "axis": null}, "y": {"field": "y", "type": "quantitative", "axis": null}}},
                 {"data": {"name": "e_br"}, "mark": {"type": "tick", "orient": "vertical", "size": 7, "thickness": 1.1, "color": "#555", "opacity": 1},
                  "encoding": {"x": {"field": "b", "type": "quantitative", "axis": null}, "y": {"field": "y", "type": "quantitative", "axis": null}}},
                 {"data": {"name": "e_br"}, "transform": [{"calculate": "(datum.a + datum.b) / 2", "as": "mid"}], "mark": {"type": "text", "fontSize": 13, "color": "#555", "baseline": "alphabetic", "dy": 4},
                  "encoding": {"x": {"field": "mid", "type": "quantitative", "axis": null}, "y": {"field": "y", "type": "quantitative", "axis": null}, "text": {"field": "s"}}}
               ]},
              {"width": 176, "height": 25, "data": {"name": "e_bars"},
               "transform": [{"fold": ["GH", "PD 98059"], "as": ["row", "s"]}],
               "mark": {"type": "text", "fontSize": 11, "color": "#333"},
               "encoding": {
                 "x": {"field": "i", "type": "quantitative", "scale": {"domain": [0.5, 4.5], "nice": false, "zero": false}, "axis": null},
                 "y": {"field": "row", "type": "nominal", "sort": ["GH", "PD 98059"], "scale": {"padding": 0.5}, "axis": {"domain": false, "ticks": false, "labelFontSize": 11, "labelPadding": 4, "labelColor": "#333", "title": null}},
                 "text": {"field": "s"}
               }}
            ],
            "spacing": 6
          }
        ], "spacing": 15}
      ], "spacing": 12},
      {"resolve": {"scale": {"fill": "independent", "color": "independent"}}, "hconcat": [
        {
          "vconcat": [
            {"width": 175, "height": 115, "data": {"name": "f_bars"},
             "resolve": {"axis": {"x": "independent", "y": "independent"}},
             "layer": [
               {"mark": {"type": "bar", "orient": "vertical", "width": 28, "stroke": "#222", "strokeWidth": 1.4, "opacity": 1},
                "encoding": {
                  "x": {"field": "i", "type": "quantitative", "scale": {"domain": [0.529, 4.552], "nice": false, "zero": false}, "axis": {"values": [1, 2, 3, 4], "labels": false, "title": null}},
                  "y": {"field": "v", "type": "quantitative", "scale": {"domain": [0, 80], "nice": false}, "axis": {"values": [0, 20, 40, 60, 80], "title": ["mRNA fold change", "(relative to untreated)"]}},
                  "fill": {"field": "i", "type": "nominal", "scale": {"domain": [1, 2, 3, 4], "range": ["#ffffff", "#222222", "#555555", "#999999"]}, "legend": null}
                }},
               {"transform": [{"filter": "datum.i == 4"}],
                "mark": {"type": "bar", "orient": "vertical", "width": 28, "stroke": "#222", "strokeWidth": 1.4, "opacity": 1,
                  "fill": {"gradient": "linear", "x1": 1, "y1": 0, "x2": -0.197, "y2": 0.381, "stops": [{"offset": 0, "color": "#fff"}, {"offset": 0.05, "color": "#fff"}, {"offset": 0.05, "color": "#222"}, {"offset": 0.1, "color": "#222"}, {"offset": 0.1, "color": "#fff"}, {"offset": 0.15, "color": "#fff"}, {"offset": 0.15, "color": "#222"}, {"offset": 0.2, "color": "#222"}, {"offset": 0.2, "color": "#fff"}, {"offset": 0.25, "color": "#fff"}, {"offset": 0.25, "color": "#222"}, {"offset": 0.3, "color": "#222"}, {"offset": 0.3, "color": "#fff"}, {"offset": 0.35, "color": "#fff"}, {"offset": 0.35, "color": "#222"}, {"offset": 0.4, "color": "#222"}, {"offset": 0.4, "color": "#fff"}, {"offset": 0.45, "color": "#fff"}, {"offset": 0.45, "color": "#222"}, {"offset": 0.5, "color": "#222"}, {"offset": 0.5, "color": "#fff"}, {"offset": 0.55, "color": "#fff"}, {"offset": 0.55, "color": "#222"}, {"offset": 0.6, "color": "#222"}, {"offset": 0.6, "color": "#fff"}, {"offset": 0.65, "color": "#fff"}, {"offset": 0.65, "color": "#222"}, {"offset": 0.7, "color": "#222"}, {"offset": 0.7, "color": "#fff"}, {"offset": 0.75, "color": "#fff"}, {"offset": 0.75, "color": "#222"}, {"offset": 0.8, "color": "#222"}, {"offset": 0.8, "color": "#fff"}, {"offset": 0.85, "color": "#fff"}, {"offset": 0.85, "color": "#222"}, {"offset": 0.9, "color": "#222"}, {"offset": 0.9, "color": "#fff"}, {"offset": 0.95, "color": "#fff"}, {"offset": 0.95, "color": "#222"}, {"offset": 1, "color": "#222"}]}},
                "encoding": {"x": {"field": "i", "type": "quantitative", "axis": null}, "y": {"field": "v", "type": "quantitative", "axis": null}}},
               {"mark": {"type": "rule", "color": "#222", "strokeWidth": 1.4},
                "encoding": {
                  "x": {"field": "i", "type": "quantitative", "axis": {"orient": "top", "labels": false, "ticks": false, "domain": false, "title": "HLA-G", "titleFontStyle": "italic", "titlePadding": 19, "titleX": 68}},
                  "y": {"field": "v", "type": "quantitative", "axis": null}, "y2": {"field": "hi"}}},
               {"mark": {"type": "tick", "orient": "horizontal", "size": 13, "thickness": 1.4, "color": "#222", "opacity": 1},
                "encoding": {
                  "x": {"field": "i", "type": "quantitative", "axis": {"orient": "top", "labels": false, "ticks": false, "domain": false, "title": "F", "titleFontSize": 14, "titleFontWeight": "bold", "titleColor": "#222", "titleX": -38, "titleY": -26, "titleAlign": "left", "titleBaseline": "middle"}},
                  "y": {"field": "hi", "type": "quantitative", "axis": null}}},
               {"data": {"name": "f_br"}, "mark": {"type": "rule", "color": "#555", "strokeWidth": 1.1},
                "encoding": {"x": {"field": "a", "type": "quantitative", "axis": null}, "x2": {"field": "b"}, "y": {"field": "y", "type": "quantitative", "axis": null}}},
               {"data": {"name": "f_br"}, "mark": {"type": "tick", "orient": "vertical", "size": 7, "thickness": 1.1, "color": "#555", "opacity": 1},
                "encoding": {"x": {"field": "a", "type": "quantitative", "axis": null}, "y": {"field": "y", "type": "quantitative", "axis": null}}},
               {"data": {"name": "f_br"}, "mark": {"type": "tick", "orient": "vertical", "size": 7, "thickness": 1.1, "color": "#555", "opacity": 1},
                "encoding": {"x": {"field": "b", "type": "quantitative", "axis": null}, "y": {"field": "y", "type": "quantitative", "axis": null}}},
               {"data": {"name": "f_br"}, "transform": [{"calculate": "(datum.a + datum.b) / 2", "as": "mid"}], "mark": {"type": "text", "fontSize": 13, "color": "#555", "baseline": "alphabetic", "dy": 4},
                "encoding": {"x": {"field": "mid", "type": "quantitative", "axis": null}, "y": {"field": "y", "type": "quantitative", "axis": null}, "text": {"field": "s"}}}
             ]},
            {"width": 175, "height": 30, "data": {"name": "f_bars"},
             "transform": [{"fold": ["GH", "PD 98059"], "as": ["row", "s"]}],
             "mark": {"type": "text", "fontSize": 11, "color": "#333"},
             "encoding": {
               "x": {"field": "i", "type": "quantitative", "scale": {"domain": [0.529, 4.552], "nice": false, "zero": false}, "axis": null},
               "y": {"field": "row", "type": "nominal", "sort": ["GH", "PD 98059"], "scale": {"padding": 0.5}, "axis": {"domain": false, "ticks": false, "labelFontSize": 11, "labelPadding": -1, "labelColor": "#333", "title": null}},
               "text": {"field": "s"}
             }}
          ],
          "spacing": 3
        },
        {"resolve": {"scale": {"fill": "independent", "color": "independent"}}, "hconcat": [
          {
            "vconcat": [
              {"width": 176, "height": 115, "data": {"name": "g_bars"},
               "resolve": {"axis": {"x": "independent", "y": "independent"}},
               "layer": [
                 {"mark": {"type": "bar", "orient": "vertical", "width": 30, "stroke": "#222", "strokeWidth": 1.4, "opacity": 1},
                  "encoding": {
                    "x": {"field": "i", "type": "quantitative", "scale": {"domain": [0.475, 4.49], "nice": false, "zero": false}, "axis": {"values": [1, 2, 3, 4], "labels": false, "title": null}},
                    "y": {"field": "v", "type": "quantitative", "scale": {"domain": [0, 400], "nice": false}, "axis": {"values": [0, 100, 200, 300, 400], "title": ["Apoptosis", "(cell number/area)"]}},
                    "fill": {"field": "i", "type": "nominal", "scale": {"domain": [1, 2, 3, 4], "range": ["#ffffff", "#ffffff", "#222222", "#999999"]}, "legend": null}
                  }},
                 {"transform": [{"filter": "datum.i == 2"}],
                  "mark": {"type": "bar", "orient": "vertical", "width": 30, "strokeWidth": 0, "opacity": 1,
                    "fill": {"gradient": "linear", "x1": 0, "y1": 0, "x2": 1, "y2": 0, "stops": [{"offset": 0, "color": "#fff"}, {"offset": 0.0625, "color": "#fff"}, {"offset": 0.0625, "color": "#444"}, {"offset": 0.125, "color": "#444"}, {"offset": 0.125, "color": "#fff"}, {"offset": 0.1875, "color": "#fff"}, {"offset": 0.1875, "color": "#444"}, {"offset": 0.25, "color": "#444"}, {"offset": 0.25, "color": "#fff"}, {"offset": 0.3125, "color": "#fff"}, {"offset": 0.3125, "color": "#444"}, {"offset": 0.375, "color": "#444"}, {"offset": 0.375, "color": "#fff"}, {"offset": 0.4375, "color": "#fff"}, {"offset": 0.4375, "color": "#444"}, {"offset": 0.5, "color": "#444"}, {"offset": 0.5, "color": "#fff"}, {"offset": 0.5625, "color": "#fff"}, {"offset": 0.5625, "color": "#444"}, {"offset": 0.625, "color": "#444"}, {"offset": 0.625, "color": "#fff"}, {"offset": 0.6875, "color": "#fff"}, {"offset": 0.6875, "color": "#444"}, {"offset": 0.75, "color": "#444"}, {"offset": 0.75, "color": "#fff"}, {"offset": 0.8125, "color": "#fff"}, {"offset": 0.8125, "color": "#444"}, {"offset": 0.875, "color": "#444"}, {"offset": 0.875, "color": "#fff"}, {"offset": 0.9375, "color": "#fff"}, {"offset": 0.9375, "color": "#444"}, {"offset": 1, "color": "#444"}]}},
                  "encoding": {"x": {"field": "i", "type": "quantitative", "axis": null}, "y": {"field": "v", "type": "quantitative", "axis": null}}},
                 {"transform": [{"filter": "datum.i == 2"}],
                  "mark": {"type": "bar", "orient": "vertical", "width": 30, "strokeWidth": 0, "opacity": 1,
                    "fill": {"gradient": "linear", "x1": 0, "y1": 0, "x2": 0, "y2": 1, "stops": [{"offset": 0, "color": "rgba(68,68,68,0)"}, {"offset": 0.02, "color": "#444"}, {"offset": 0.04, "color": "rgba(68,68,68,0)"}, {"offset": 0.06, "color": "#444"}, {"offset": 0.08, "color": "rgba(68,68,68,0)"}, {"offset": 0.1, "color": "#444"}, {"offset": 0.12, "color": "rgba(68,68,68,0)"}, {"offset": 0.14, "color": "#444"}, {"offset": 0.16, "color": "rgba(68,68,68,0)"}, {"offset": 0.18, "color": "#444"}, {"offset": 0.2, "color": "rgba(68,68,68,0)"}, {"offset": 0.22, "color": "#444"}, {"offset": 0.24, "color": "rgba(68,68,68,0)"}, {"offset": 0.26, "color": "#444"}, {"offset": 0.28, "color": "rgba(68,68,68,0)"}, {"offset": 0.3, "color": "#444"}, {"offset": 0.32, "color": "rgba(68,68,68,0)"}, {"offset": 0.34, "color": "#444"}, {"offset": 0.36, "color": "rgba(68,68,68,0)"}, {"offset": 0.38, "color": "#444"}, {"offset": 0.4, "color": "rgba(68,68,68,0)"}, {"offset": 0.42, "color": "#444"}, {"offset": 0.44, "color": "rgba(68,68,68,0)"}, {"offset": 0.46, "color": "#444"}, {"offset": 0.48, "color": "rgba(68,68,68,0)"}, {"offset": 0.5, "color": "#444"}, {"offset": 0.52, "color": "rgba(68,68,68,0)"}, {"offset": 0.54, "color": "#444"}, {"offset": 0.56, "color": "rgba(68,68,68,0)"}, {"offset": 0.58, "color": "#444"}, {"offset": 0.6, "color": "rgba(68,68,68,0)"}, {"offset": 0.62, "color": "#444"}, {"offset": 0.64, "color": "rgba(68,68,68,0)"}, {"offset": 0.66, "color": "#444"}, {"offset": 0.68, "color": "rgba(68,68,68,0)"}, {"offset": 0.7, "color": "#444"}, {"offset": 0.72, "color": "rgba(68,68,68,0)"}, {"offset": 0.74, "color": "#444"}, {"offset": 0.76, "color": "rgba(68,68,68,0)"}, {"offset": 0.78, "color": "#444"}, {"offset": 0.8, "color": "rgba(68,68,68,0)"}, {"offset": 0.82, "color": "#444"}, {"offset": 0.84, "color": "rgba(68,68,68,0)"}, {"offset": 0.86, "color": "#444"}, {"offset": 0.88, "color": "rgba(68,68,68,0)"}, {"offset": 0.9, "color": "#444"}, {"offset": 0.92, "color": "rgba(68,68,68,0)"}, {"offset": 0.94, "color": "#444"}, {"offset": 0.96, "color": "rgba(68,68,68,0)"}, {"offset": 0.98, "color": "#444"}, {"offset": 1, "color": "rgba(68,68,68,0)"}]}},
                  "encoding": {"x": {"field": "i", "type": "quantitative", "axis": null}, "y": {"field": "v", "type": "quantitative", "axis": null}}},
                 {"transform": [{"filter": "datum.i == 2"}],
                  "mark": {"type": "bar", "orient": "vertical", "width": 30, "fill": "transparent", "stroke": "#222", "strokeWidth": 1.4, "opacity": 1},
                  "encoding": {"x": {"field": "i", "type": "quantitative", "axis": null}, "y": {"field": "v", "type": "quantitative", "axis": null}}},
                 {"transform": [{"filter": "datum.i == 4"}],
                  "mark": {"type": "bar", "orient": "vertical", "width": 30, "stroke": "#222", "strokeWidth": 1.4, "opacity": 1,
                    "fill": {"gradient": "linear", "x1": 0, "y1": 0, "x2": 1.137, "y2": 0.807, "stops": [{"offset": 0, "color": "#fff"}, {"offset": 0.05, "color": "#fff"}, {"offset": 0.05, "color": "#222"}, {"offset": 0.1, "color": "#222"}, {"offset": 0.1, "color": "#fff"}, {"offset": 0.15, "color": "#fff"}, {"offset": 0.15, "color": "#222"}, {"offset": 0.2, "color": "#222"}, {"offset": 0.2, "color": "#fff"}, {"offset": 0.25, "color": "#fff"}, {"offset": 0.25, "color": "#222"}, {"offset": 0.3, "color": "#222"}, {"offset": 0.3, "color": "#fff"}, {"offset": 0.35, "color": "#fff"}, {"offset": 0.35, "color": "#222"}, {"offset": 0.4, "color": "#222"}, {"offset": 0.4, "color": "#fff"}, {"offset": 0.45, "color": "#fff"}, {"offset": 0.45, "color": "#222"}, {"offset": 0.5, "color": "#222"}, {"offset": 0.5, "color": "#fff"}, {"offset": 0.55, "color": "#fff"}, {"offset": 0.55, "color": "#222"}, {"offset": 0.6, "color": "#222"}, {"offset": 0.6, "color": "#fff"}, {"offset": 0.65, "color": "#fff"}, {"offset": 0.65, "color": "#222"}, {"offset": 0.7, "color": "#222"}, {"offset": 0.7, "color": "#fff"}, {"offset": 0.75, "color": "#fff"}, {"offset": 0.75, "color": "#222"}, {"offset": 0.8, "color": "#222"}, {"offset": 0.8, "color": "#fff"}, {"offset": 0.85, "color": "#fff"}, {"offset": 0.85, "color": "#222"}, {"offset": 0.9, "color": "#222"}, {"offset": 0.9, "color": "#fff"}, {"offset": 0.95, "color": "#fff"}, {"offset": 0.95, "color": "#222"}, {"offset": 1, "color": "#222"}]}},
                  "encoding": {"x": {"field": "i", "type": "quantitative", "axis": null}, "y": {"field": "v", "type": "quantitative", "axis": null}}},
                 {"mark": {"type": "rule", "color": "#222", "strokeWidth": 1.4},
                  "encoding": {
                    "x": {"field": "i", "type": "quantitative", "axis": {"orient": "top", "labels": false, "ticks": false, "domain": false, "title": "TUNEL", "titlePadding": 16, "titleX": 75}},
                    "y": {"field": "v", "type": "quantitative", "axis": null}, "y2": {"field": "hi"}}},
                 {"mark": {"type": "tick", "orient": "horizontal", "size": 12, "thickness": 1.4, "color": "#222", "opacity": 1},
                  "encoding": {
                    "x": {"field": "i", "type": "quantitative", "axis": {"orient": "top", "labels": false, "ticks": false, "domain": false, "title": "G", "titleFontSize": 14, "titleFontWeight": "bold", "titleColor": "#222", "titleX": -62, "titleY": -26, "titleAlign": "left", "titleBaseline": "middle"}},
                    "y": {"field": "hi", "type": "quantitative", "axis": null}}},
                 {"data": {"name": "g_br"}, "mark": {"type": "rule", "color": "#555", "strokeWidth": 1.1},
                  "encoding": {"x": {"field": "a", "type": "quantitative", "axis": null}, "x2": {"field": "b"}, "y": {"field": "y", "type": "quantitative", "axis": null}}},
                 {"data": {"name": "g_br"}, "mark": {"type": "tick", "orient": "vertical", "size": 7, "thickness": 1.1, "color": "#555", "opacity": 1},
                  "encoding": {"x": {"field": "a", "type": "quantitative", "axis": null}, "y": {"field": "y", "type": "quantitative", "axis": null}}},
                 {"data": {"name": "g_br"}, "mark": {"type": "tick", "orient": "vertical", "size": 7, "thickness": 1.1, "color": "#555", "opacity": 1},
                  "encoding": {"x": {"field": "b", "type": "quantitative", "axis": null}, "y": {"field": "y", "type": "quantitative", "axis": null}}},
                 {"data": {"name": "g_br"}, "transform": [{"calculate": "(datum.a + datum.b) / 2", "as": "mid"}], "mark": {"type": "text", "fontSize": 13, "color": "#555", "baseline": "alphabetic", "dy": 4},
                  "encoding": {"x": {"field": "mid", "type": "quantitative", "axis": null}, "y": {"field": "y", "type": "quantitative", "axis": null}, "text": {"field": "s"}}}
               ]},
              {"width": 176, "height": 30, "data": {"name": "g_bars"},
               "transform": [{"fold": ["NK Cells", "GH"], "as": ["row", "s"]}],
               "mark": {"type": "text", "fontSize": 11, "color": "#333"},
               "encoding": {
                 "x": {"field": "i", "type": "quantitative", "scale": {"domain": [0.475, 4.49], "nice": false, "zero": false}, "axis": null},
                 "y": {"field": "row", "type": "nominal", "sort": ["NK Cells", "GH"], "scale": {"padding": 0.5}, "axis": {"domain": false, "ticks": false, "labelFontSize": 11, "labelPadding": -5, "labelColor": "#333", "title": null}},
                 "text": {"field": "s"}
               }}
            ],
            "spacing": 3
          },
          {
            "vconcat": [
              {"width": 178, "height": 115, "data": {"name": "h_bars"},
               "resolve": {"axis": {"x": "independent", "y": "independent"}},
               "layer": [
                 {"mark": {"type": "bar", "orient": "vertical", "width": 29, "stroke": "#222", "strokeWidth": 1.4, "opacity": 1},
                  "encoding": {
                    "x": {"field": "i", "type": "quantitative", "scale": {"domain": [0.44, 4.53], "nice": false, "zero": false}, "axis": {"values": [1, 2, 3, 4], "labels": false, "title": null}},
                    "y": {"field": "v", "type": "quantitative", "scale": {"domain": [0, 400], "nice": false}, "axis": {"values": [0, 100, 200, 300, 400], "title": ["Apoptosis", "(cell number/area)"]}},
                    "fill": {"field": "i", "type": "nominal", "scale": {"domain": [1, 2, 3, 4], "range": ["#ffffff", "#ffffff", "#ffffff", "#ffffff"]}, "legend": null}
                  }},
                 {"transform": [{"filter": "datum.i == 2"}],
                  "mark": {"type": "bar", "orient": "vertical", "width": 29, "strokeWidth": 0, "opacity": 1,
                    "fill": {"gradient": "linear", "x1": 0, "y1": 0, "x2": 1, "y2": 0, "stops": [{"offset": 0, "color": "#fff"}, {"offset": 0.0625, "color": "#fff"}, {"offset": 0.0625, "color": "#444"}, {"offset": 0.125, "color": "#444"}, {"offset": 0.125, "color": "#fff"}, {"offset": 0.1875, "color": "#fff"}, {"offset": 0.1875, "color": "#444"}, {"offset": 0.25, "color": "#444"}, {"offset": 0.25, "color": "#fff"}, {"offset": 0.3125, "color": "#fff"}, {"offset": 0.3125, "color": "#444"}, {"offset": 0.375, "color": "#444"}, {"offset": 0.375, "color": "#fff"}, {"offset": 0.4375, "color": "#fff"}, {"offset": 0.4375, "color": "#444"}, {"offset": 0.5, "color": "#444"}, {"offset": 0.5, "color": "#fff"}, {"offset": 0.5625, "color": "#fff"}, {"offset": 0.5625, "color": "#444"}, {"offset": 0.625, "color": "#444"}, {"offset": 0.625, "color": "#fff"}, {"offset": 0.6875, "color": "#fff"}, {"offset": 0.6875, "color": "#444"}, {"offset": 0.75, "color": "#444"}, {"offset": 0.75, "color": "#fff"}, {"offset": 0.8125, "color": "#fff"}, {"offset": 0.8125, "color": "#444"}, {"offset": 0.875, "color": "#444"}, {"offset": 0.875, "color": "#fff"}, {"offset": 0.9375, "color": "#fff"}, {"offset": 0.9375, "color": "#444"}, {"offset": 1, "color": "#444"}]}},
                  "encoding": {"x": {"field": "i", "type": "quantitative", "axis": null}, "y": {"field": "v", "type": "quantitative", "axis": null}}},
                 {"transform": [{"filter": "datum.i == 2"}],
                  "mark": {"type": "bar", "orient": "vertical", "width": 29, "strokeWidth": 0, "opacity": 1,
                    "fill": {"gradient": "linear", "x1": 0, "y1": 0, "x2": 0, "y2": 1, "stops": [{"offset": 0, "color": "rgba(68,68,68,0)"}, {"offset": 0.02, "color": "#444"}, {"offset": 0.04, "color": "rgba(68,68,68,0)"}, {"offset": 0.06, "color": "#444"}, {"offset": 0.08, "color": "rgba(68,68,68,0)"}, {"offset": 0.1, "color": "#444"}, {"offset": 0.12, "color": "rgba(68,68,68,0)"}, {"offset": 0.14, "color": "#444"}, {"offset": 0.16, "color": "rgba(68,68,68,0)"}, {"offset": 0.18, "color": "#444"}, {"offset": 0.2, "color": "rgba(68,68,68,0)"}, {"offset": 0.22, "color": "#444"}, {"offset": 0.24, "color": "rgba(68,68,68,0)"}, {"offset": 0.26, "color": "#444"}, {"offset": 0.28, "color": "rgba(68,68,68,0)"}, {"offset": 0.3, "color": "#444"}, {"offset": 0.32, "color": "rgba(68,68,68,0)"}, {"offset": 0.34, "color": "#444"}, {"offset": 0.36, "color": "rgba(68,68,68,0)"}, {"offset": 0.38, "color": "#444"}, {"offset": 0.4, "color": "rgba(68,68,68,0)"}, {"offset": 0.42, "color": "#444"}, {"offset": 0.44, "color": "rgba(68,68,68,0)"}, {"offset": 0.46, "color": "#444"}, {"offset": 0.48, "color": "rgba(68,68,68,0)"}, {"offset": 0.5, "color": "#444"}, {"offset": 0.52, "color": "rgba(68,68,68,0)"}, {"offset": 0.54, "color": "#444"}, {"offset": 0.56, "color": "rgba(68,68,68,0)"}, {"offset": 0.58, "color": "#444"}, {"offset": 0.6, "color": "rgba(68,68,68,0)"}, {"offset": 0.62, "color": "#444"}, {"offset": 0.64, "color": "rgba(68,68,68,0)"}, {"offset": 0.66, "color": "#444"}, {"offset": 0.68, "color": "rgba(68,68,68,0)"}, {"offset": 0.7, "color": "#444"}, {"offset": 0.72, "color": "rgba(68,68,68,0)"}, {"offset": 0.74, "color": "#444"}, {"offset": 0.76, "color": "rgba(68,68,68,0)"}, {"offset": 0.78, "color": "#444"}, {"offset": 0.8, "color": "rgba(68,68,68,0)"}, {"offset": 0.82, "color": "#444"}, {"offset": 0.84, "color": "rgba(68,68,68,0)"}, {"offset": 0.86, "color": "#444"}, {"offset": 0.88, "color": "rgba(68,68,68,0)"}, {"offset": 0.9, "color": "#444"}, {"offset": 0.92, "color": "rgba(68,68,68,0)"}, {"offset": 0.94, "color": "#444"}, {"offset": 0.96, "color": "rgba(68,68,68,0)"}, {"offset": 0.98, "color": "#444"}, {"offset": 1, "color": "rgba(68,68,68,0)"}]}},
                  "encoding": {"x": {"field": "i", "type": "quantitative", "axis": null}, "y": {"field": "v", "type": "quantitative", "axis": null}}},
                 {"transform": [{"filter": "datum.i == 3"}],
                  "mark": {"type": "bar", "orient": "vertical", "width": 29, "strokeWidth": 0, "opacity": 1,
                    "fill": {"gradient": "linear", "x1": 0, "y1": 0, "x2": 0, "y2": 1, "stops": [{"offset": 0, "color": "#fff"}, {"offset": 0.075, "color": "#fff"}, {"offset": 0.075, "color": "#999"}, {"offset": 0.125, "color": "#999"}, {"offset": 0.125, "color": "#fff"}, {"offset": 0.2, "color": "#fff"}, {"offset": 0.2, "color": "#999"}, {"offset": 0.25, "color": "#999"}, {"offset": 0.25, "color": "#fff"}, {"offset": 0.325, "color": "#fff"}, {"offset": 0.325, "color": "#999"}, {"offset": 0.375, "color": "#999"}, {"offset": 0.375, "color": "#fff"}, {"offset": 0.45, "color": "#fff"}, {"offset": 0.45, "color": "#999"}, {"offset": 0.5, "color": "#999"}, {"offset": 0.5, "color": "#fff"}, {"offset": 0.575, "color": "#fff"}, {"offset": 0.575, "color": "#999"}, {"offset": 0.625, "color": "#999"}, {"offset": 0.625, "color": "#fff"}, {"offset": 0.7, "color": "#fff"}, {"offset": 0.7, "color": "#999"}, {"offset": 0.75, "color": "#999"}, {"offset": 0.75, "color": "#fff"}, {"offset": 0.825, "color": "#fff"}, {"offset": 0.825, "color": "#999"}, {"offset": 0.875, "color": "#999"}, {"offset": 0.875, "color": "#fff"}, {"offset": 0.95, "color": "#fff"}, {"offset": 0.95, "color": "#999"}, {"offset": 1, "color": "#999"}]}},
                  "encoding": {"x": {"field": "i", "type": "quantitative", "axis": null}, "y": {"field": "v", "type": "quantitative", "axis": null}}},
                 {"transform": [{"filter": "datum.i == 4"}],
                  "mark": {"type": "bar", "orient": "vertical", "width": 29, "strokeWidth": 0, "opacity": 1,
                    "fill": {"gradient": "linear", "x1": 0, "y1": 0, "x2": 1, "y2": 0, "stops": [{"offset": 0, "color": "#fff"}, {"offset": 0.075, "color": "#fff"}, {"offset": 0.075, "color": "#999"}, {"offset": 0.125, "color": "#999"}, {"offset": 0.125, "color": "#fff"}, {"offset": 0.2, "color": "#fff"}, {"offset": 0.2, "color": "#999"}, {"offset": 0.25, "color": "#999"}, {"offset": 0.25, "color": "#fff"}, {"offset": 0.325, "color": "#fff"}, {"offset": 0.325, "color": "#999"}, {"offset": 0.375, "color": "#999"}, {"offset": 0.375, "color": "#fff"}, {"offset": 0.45, "color": "#fff"}, {"offset": 0.45, "color": "#999"}, {"offset": 0.5, "color": "#999"}, {"offset": 0.5, "color": "#fff"}, {"offset": 0.575, "color": "#fff"}, {"offset": 0.575, "color": "#999"}, {"offset": 0.625, "color": "#999"}, {"offset": 0.625, "color": "#fff"}, {"offset": 0.7, "color": "#fff"}, {"offset": 0.7, "color": "#999"}, {"offset": 0.75, "color": "#999"}, {"offset": 0.75, "color": "#fff"}, {"offset": 0.825, "color": "#fff"}, {"offset": 0.825, "color": "#999"}, {"offset": 0.875, "color": "#999"}, {"offset": 0.875, "color": "#fff"}, {"offset": 0.95, "color": "#fff"}, {"offset": 0.95, "color": "#999"}, {"offset": 1, "color": "#999"}]}},
                  "encoding": {"x": {"field": "i", "type": "quantitative", "axis": null}, "y": {"field": "v", "type": "quantitative", "axis": null}}},
                 {"transform": [{"filter": "datum.i > 1"}],
                  "mark": {"type": "bar", "orient": "vertical", "width": 29, "fill": "transparent", "stroke": "#222", "strokeWidth": 1.4, "opacity": 1},
                  "encoding": {"x": {"field": "i", "type": "quantitative", "axis": null}, "y": {"field": "v", "type": "quantitative", "axis": null}}},
                 {"mark": {"type": "rule", "color": "#222", "strokeWidth": 1.4},
                  "encoding": {
                    "x": {"field": "i", "type": "quantitative", "axis": {"orient": "top", "labels": false, "ticks": false, "domain": false, "title": "TUNEL", "titlePadding": 16, "titleX": 77}},
                    "y": {"field": "v", "type": "quantitative", "axis": null}, "y2": {"field": "hi"}}},
                 {"mark": {"type": "tick", "orient": "horizontal", "size": 12, "thickness": 1.4, "color": "#222", "opacity": 1},
                  "encoding": {
                    "x": {"field": "i", "type": "quantitative", "axis": {"orient": "top", "labels": false, "ticks": false, "domain": false, "title": "H", "titleFontSize": 14, "titleFontWeight": "bold", "titleColor": "#222", "titleX": -60, "titleY": -25, "titleAlign": "left", "titleBaseline": "middle"}},
                    "y": {"field": "hi", "type": "quantitative", "axis": null}}},
                 {"data": {"name": "h_br"}, "mark": {"type": "rule", "color": "#555", "strokeWidth": 1.1},
                  "encoding": {"x": {"field": "a", "type": "quantitative", "axis": null}, "x2": {"field": "b"}, "y": {"field": "y", "type": "quantitative", "axis": null}}},
                 {"data": {"name": "h_br"}, "mark": {"type": "tick", "orient": "vertical", "size": 7, "thickness": 1.1, "color": "#555", "opacity": 1},
                  "encoding": {"x": {"field": "a", "type": "quantitative", "axis": null}, "y": {"field": "y", "type": "quantitative", "axis": null}}},
                 {"data": {"name": "h_br"}, "mark": {"type": "tick", "orient": "vertical", "size": 7, "thickness": 1.1, "color": "#555", "opacity": 1},
                  "encoding": {"x": {"field": "b", "type": "quantitative", "axis": null}, "y": {"field": "y", "type": "quantitative", "axis": null}}},
                 {"data": {"name": "h_br"}, "transform": [{"calculate": "(datum.a + datum.b) / 2", "as": "mid"}], "mark": {"type": "text", "fontSize": 13, "color": "#555", "baseline": "alphabetic", "dy": 4},
                  "encoding": {"x": {"field": "mid", "type": "quantitative", "axis": null}, "y": {"field": "y", "type": "quantitative", "axis": null}, "text": {"field": "s"}}}
               ]},
              {"width": 178, "height": 30, "data": {"name": "h_bars"},
               "transform": [{"fold": ["NK Cells", "HLA-G"], "as": ["row", "s"]}],
               "mark": {"type": "text", "fontSize": 11, "color": "#333"},
               "encoding": {
                 "x": {"field": "i", "type": "quantitative", "scale": {"domain": [0.44, 4.53], "nice": false, "zero": false}, "axis": null},
                 "y": {"field": "row", "type": "nominal", "sort": ["NK Cells", "HLA-G"], "scale": {"padding": 0.5}, "axis": {"domain": false, "ticks": false, "labelFontSize": 11, "labelPadding": -6, "labelColor": "#333", "title": null}},
                 "text": {"field": "s"}
               }}
            ],
            "spacing": 3
          }
        ], "spacing": -4}
      ], "spacing": 2}
    ], "spacing": 13}
  ],
  "spacing": 18
}
